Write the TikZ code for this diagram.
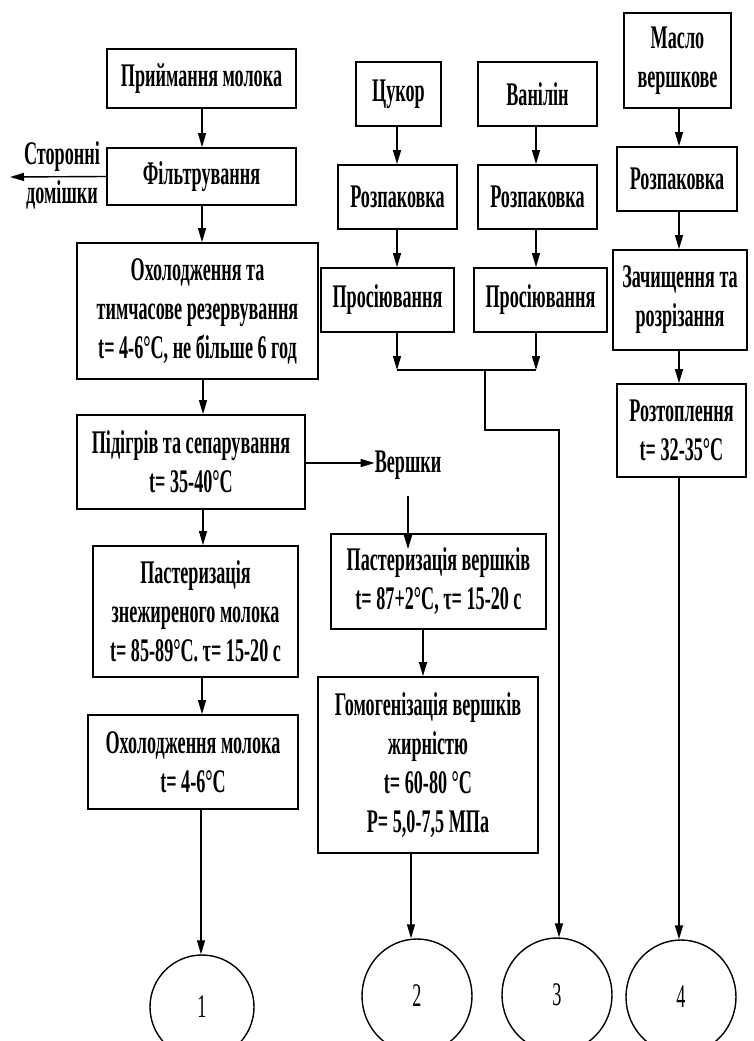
\documentclass[tikz,border=0pt]{standalone}
\usepackage{fontspec}
\setmainfont{Liberation Serif}[FakeStretch=0.55]
\usetikzlibrary{arrows.meta,shapes.geometric}
\tikzset{
  pbox/.style={draw, line width=1.8pt, inner sep=0pt, align=center,
    font=\bfseries\fontsize{33}{39}\selectfont},
  arr/.style={line width=1.4pt, -{Triangle[length=14pt,width=8pt]}},
  ln/.style={line width=1.4pt},
  circ/.style={draw, ellipse, line width=1.4pt, inner sep=0pt,
    font=\fontsize{33}{36}\selectfont},
  lbl/.style={inner sep=0pt, font=\bfseries\fontsize{33}{39}\selectfont},
}
\begin{document}
\begin{tikzpicture}[x=1pt,y=-1pt]
\useasboundingbox (0,0) rectangle (754,1041);
\clip (0,0) rectangle (754,1041);
% left column
\node[pbox, minimum width=189pt, minimum height=59pt] (A) at (201.5,78.5) {Приймання молока};
\node[pbox, minimum width=189pt, minimum height=57pt] (B) at (201.5,176.5) {Фільтрування};
\node[pbox, minimum width=241pt, minimum height=136pt] (C) at (197.5,311) {Охолодження та\\тимчасове резервування\\t= 4-6°C, не більше 6 год};
\node[pbox, minimum width=228pt, minimum height=94pt] (D) at (191,462) {Підігрів та сепарування\\t= 35-40°C};
\node[pbox, minimum width=205pt, minimum height=131pt] (E) at (195.5,611.5) {Пастеризація\\знежиреного молока\\ t= 85-89°C. τ= 15-20 с};
\node[pbox, minimum width=210pt, minimum height=94pt] (F) at (193,762) {Охолодження молока\\t= 4-6°C};
\node[lbl] (s1) at (62,157) {Сторонні};
\node[lbl] (s2) at (62,195) {домішки};
\coordinate (sx) at (10,177);
% sugar / vanillin
\node[pbox, minimum width=85pt, minimum height=64pt] (G) at (398.5,94) {Цукор};
\node[pbox, minimum width=119pt, minimum height=64pt] (H) at (537.5,94) {Ванілін};
\node[pbox, minimum width=119pt, minimum height=64pt] (I) at (397.5,197) {Розпаковка};
\node[pbox, minimum width=119pt, minimum height=64pt] (J) at (537.5,197) {Розпаковка};
\node[pbox, minimum width=133pt, minimum height=64pt] (K) at (387.5,300) {Просіювання};
\node[pbox, minimum width=133pt, minimum height=64pt] (L) at (540.5,300) {Просіювання};
% butter
\node[pbox, minimum width=107pt, minimum height=95pt] (M) at (677.5,60.5) {Масло\\вершкове};
\node[pbox, minimum width=120pt, minimum height=64pt] (N) at (677,179) {Розпаковка};
\node[pbox, minimum width=134pt, minimum height=100pt] (O) at (680,300) {Зачищення та\\розрізання};
\node[pbox, minimum width=129pt, minimum height=93pt] (P) at (681.5,430.5) {Розтоплення\\t= 32-35°C};
% cream
\node[lbl] (V) at (408,465) {Вершки};
\node[pbox, minimum width=215pt, minimum height=95pt] (Q) at (438.5,581.5) {Пастеризація вершків\\t= 87+2°C, τ= 15-20 с};
\node[pbox, minimum width=220pt, minimum height=176pt] (R) at (428,765) {Гомогенізація вершків\\жирністю\\t= 60-80 °C\\P= 5,0-7,5 МПа};
% circles
\node[circ, minimum width=104pt, minimum height=104pt] (c1) at (202,1007) {1};
\node[circ, minimum width=110pt, minimum height=114pt] (c2) at (417,996) {2};
\node[circ, minimum width=110pt, minimum height=114pt] (c3) at (557,995) {3};
\node[circ, minimum width=110pt, minimum height=114pt] (c4) at (681,997) {4};
% merge coordinates
\coordinate (m1) at (397,370);
\coordinate (m2) at (536,370);
\coordinate (m3) at (485,370);
\coordinate (m4) at (485,430);
\coordinate (m5) at (559,430);
% connectors
\draw[arr] ([xshift=0.5pt]A.south) -- ([xshift=0.5pt]A.south |- B.north);
\draw[arr] (B.west) -- (sx);
\draw[arr] ([xshift=0.5pt]B.south) -- ([xshift=0.5pt]B.south |- C.north);
\draw[arr] ([xshift=5.5pt]C.south) -- ([xshift=5.5pt]C.south |- D.north);
\draw[arr] ([xshift=12pt]D.south) -- ([xshift=12pt]D.south |- E.north);
\draw[arr] ([xshift=6.5pt]E.south) -- ([xshift=6.5pt]E.south |- F.north);
\draw[arr] ([xshift=8pt]F.south) -- ([xshift=8pt]F.south |- c1.north);
\draw[arr] ([yshift=-1pt]D.east) -- ([yshift=-1pt]D.east -| V.west);
\draw[arr] ([yshift=-16pt]V.south) -- ([yshift=-16pt]V.south |- Q.north);
\draw[arr] ([xshift=-15.5pt]Q.south) -- ([xshift=-15.5pt]Q.south |- R.north);
\draw[arr] ([xshift=-17pt]R.south) -- ([xshift=-17pt]R.south |- c2.north);
\draw[arr] ([xshift=-1.5pt]G.south) -- ([xshift=-1.5pt]G.south |- I.north);
\draw[arr] ([xshift=-1.5pt]H.south) -- ([xshift=-1.5pt]H.south |- J.north);
\draw[arr] ([xshift=-0.5pt]I.south) -- ([xshift=-0.5pt]I.south |- K.north);
\draw[arr] ([xshift=-1.5pt]J.south) -- ([xshift=-1.5pt]J.south |- L.north);
\draw[arr] (K.south -| m1) -- (m1);
\draw[arr] (L.south -| m2) -- (m2);
\draw[ln] (m1) -- (m2);
\draw[arr] (m3) -- (m4) -- (m5) -- (m5 |- c3.north);
\draw[arr] ([xshift=1.5pt]M.south) -- ([xshift=1.5pt]M.south |- N.north);
\draw[arr] ([xshift=2pt]N.south) -- ([xshift=2pt]N.south |- O.north);
\draw[arr] ([xshift=-1pt]O.south) -- ([xshift=-1pt]O.south |- P.north);
\draw[arr] ([xshift=-2.5pt]P.south) -- ([xshift=-2.5pt]P.south |- c4.north);
\end{tikzpicture}
\end{document}
